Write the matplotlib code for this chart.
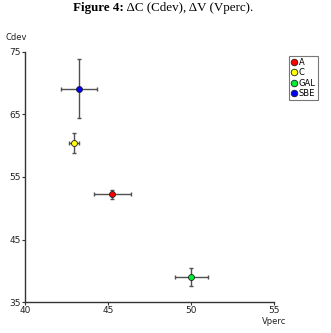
import matplotlib
matplotlib.use("Agg")
import matplotlib.pyplot as plt

groups = ["A", "C", "GAL", "SBE"]
vperc = [45.25, 42.95, 50.0, 43.25]
vperc_err = [1.1, 0.3, 1.0, 1.1]
cdev = [52.2, 60.4, 39.0, 69.1]
cdev_err = [0.75, 1.6, 1.5, 4.7]
colors = ["#ff0000", "#ffff00", "#00ee33", "#0000ff"]

x_ticks = [40, 45, 50, 55]
y_ticks = [35, 45, 55, 65, 75]

fig = plt.figure(figsize=(3.31, 3.33), dpi=100)
ax = fig.add_axes([0.0755, 0.093, 0.753, 0.751])

for name, x, xe, y, ye, c in zip(groups, vperc, vperc_err, cdev, cdev_err, colors):
    ax.errorbar(x, y, xerr=xe, yerr=ye, fmt="none", ecolor="#505050",
                elinewidth=1.0, capsize=1.6, capthick=1.0, zorder=2)
    ax.plot(x, y, "o", color=c, markeredgecolor="#202020", markeredgewidth=0.6,
            markersize=4.3, label=name, zorder=3)

ax.set_xlim(40, 55)
ax.set_ylim(35, 75)
ax.set_xticks(x_ticks)
ax.set_yticks(y_ticks)
for s in ["top", "right"]:
    ax.spines[s].set_visible(False)
for s in ["left", "bottom"]:
    ax.spines[s].set_color("#333333")
    ax.spines[s].set_linewidth(1.0)
ax.tick_params(labelsize=6.5, length=2, width=0.8, pad=1, colors="#333333",
               labelcolor="#222222")

fig.text(5 / 331, 1 - 38 / 333, "Cdev", fontsize=6, va="center", ha="left", color="#222222")
fig.text(262 / 331, 1 - 321 / 333, "Vperc", fontsize=6, va="center", ha="left", color="#222222")

leg = fig.legend(loc="upper left", bbox_to_anchor=(289 / 331, 1 - 56 / 333),
                 fontsize=6, frameon=True, fancybox=False, handlelength=0.6,
                 handletextpad=0.3, borderpad=0.25, labelspacing=0.15,
                 borderaxespad=0, markerscale=1.1)
leg.get_frame().set_edgecolor("#555555")
leg.get_frame().set_linewidth(0.8)

# Title with bold prefix followed by regular text
fig.canvas.draw()
renderer = fig.canvas.get_renderer()
bold = fig.text(0, 1 - 8 / 333, "Figure 4:", fontsize=9.4, fontweight="bold",
                family="Liberation Serif", va="center", ha="left")
rest = fig.text(0, 1 - 8 / 333, " \u0394C (Cdev), \u0394V (Vperc).", fontsize=9.4,
                family="Liberation Serif", va="center", ha="left")
wb = bold.get_window_extent(renderer).width / fig.bbox.width
wr = rest.get_window_extent(renderer).width / fig.bbox.width
x0 = 163 / 331 - (wb + wr) / 2
bold.set_x(x0)
rest.set_x(x0 + wb)

fig.savefig("out.png", dpi=100)
